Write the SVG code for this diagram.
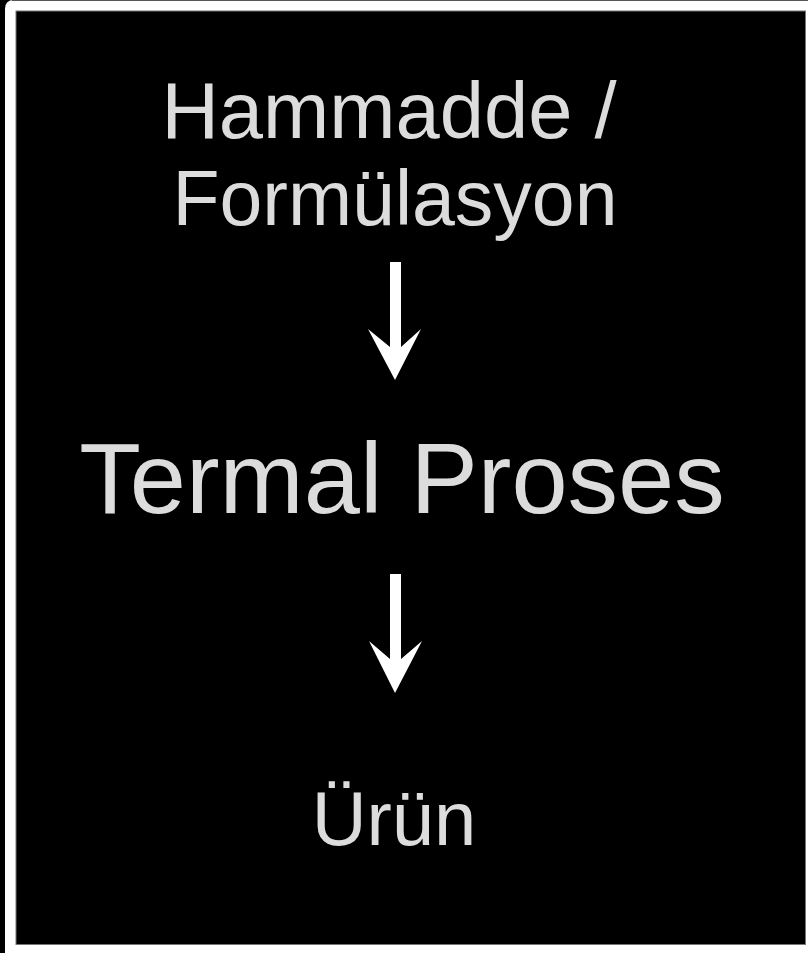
<svg xmlns="http://www.w3.org/2000/svg" width="808" height="953" viewBox="0 0 808 953">
<defs>
<style>
.lbl{font-family:"Liberation Sans",Arial,Helvetica,sans-serif;fill:#dcdcdc;text-anchor:middle}
.arrow{fill:#ffffff;stroke:none}
</style>
</defs>
<rect x="0" y="0" width="808" height="953" fill="#000"/>
<g id="frame">
<path d="M5,953 V9 Q5,0 14,0 H808 V953 Z" fill="#ffffff"/>
<line x1="12" y1="0.5" x2="808" y2="0.5" stroke="#555" stroke-width="1"/>
<rect x="16" y="11" width="789.5" height="933.5" fill="#000" stroke="#777" stroke-width="1"/>
</g>
<g id="node-hammadde">
<text class="lbl" x="389" y="138" font-size="79.5">Hammadde /</text>
<text class="lbl" x="395" y="225" font-size="77">Formülasyon</text>
</g>
<g id="node-termal">
<text class="lbl" x="402" y="513" font-size="101">Termal Proses</text>
</g>
<g id="node-urun">
<text class="lbl" x="394" y="845" font-size="76">Ürün</text>
</g>
<g id="connectors">
<path class="arrow" d="M390,262 H401 V347 L421,329 L395,380 L368,329 L390,347 Z"/>
<path class="arrow" d="M390,574 H401 V659 L422,641 L395,693 L369,641 L390,659 Z"/>
</g>
</svg>
